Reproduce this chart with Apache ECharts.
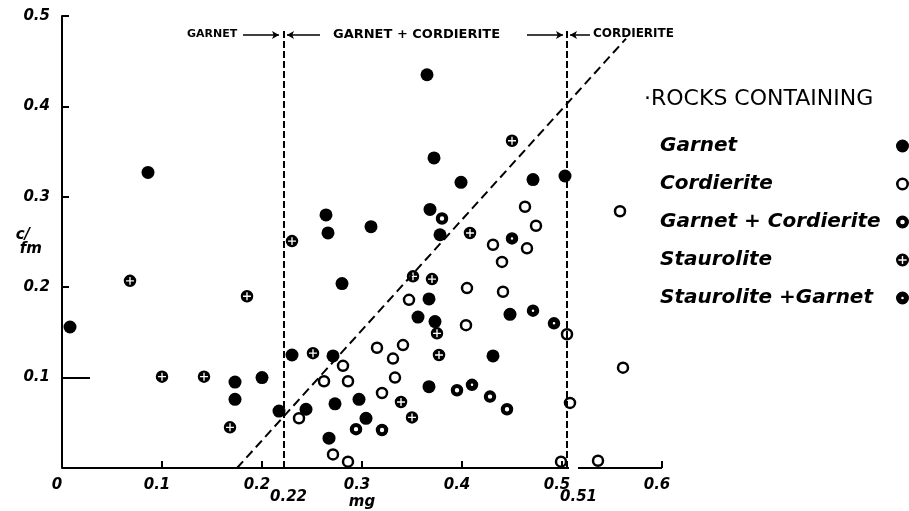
<!DOCTYPE html>
<html><head><meta charset="utf-8">
<script src="https://cdn.jsdelivr.net/npm/echarts@6/dist/echarts.min.js"></script>
<style>html,body{margin:0;padding:0;background:#fff}#c{width:909px;height:511px}</style>
</head><body><div id="c"></div>
<script>
// ---- tick labels / texts ----
const xTickLabels = ['0', '0.1', '0.2', '0.3', '0.4', '0.5', '0.6'];
const yTickLabels = ['', '0.1', '0.2', '0.3', '0.4', '0.5'];
const boundaryValues = [0.22, 0.51];
const boundaryLabels = ['0.22', '0.51'];
const zoneNames = ['GARNET', 'GARNET + CORDIERITE', 'CORDIERITE'];
const legendTitle = '·ROCKS CONTAINING';
const seriesNames = ['Garnet', 'Cordierite', 'Garnet + Cordierite', 'Staurolite', 'Staurolite +Garnet'];

// ---- data: [mg, c/fm] ----
const garnet = [
  [0.008,0.156],[0.086,0.327],[0.365,0.435],[0.372,0.343],[0.399,0.316],[0.264,0.280],
  [0.266,0.260],[0.309,0.267],[0.368,0.286],[0.378,0.258],[0.471,0.319],[0.503,0.323],
  [0.280,0.204],[0.367,0.187],[0.356,0.167],[0.373,0.162],[0.431,0.124],[0.367,0.090],
  [0.448,0.170],[0.173,0.095],[0.200,0.100],[0.173,0.076],[0.217,0.063],[0.230,0.125],
  [0.271,0.124],[0.244,0.065],[0.273,0.071],[0.297,0.076],[0.304,0.055],[0.267,0.033]
];
const cordierite = [
  [0.281,0.113],[0.262,0.096],[0.286,0.096],[0.237,0.055],[0.271,0.015],[0.286,0.007],
  [0.315,0.133],[0.331,0.121],[0.333,0.100],[0.320,0.083],[0.347,0.186],[0.405,0.199],
  [0.404,0.158],[0.341,0.136],[0.441,0.195],[0.440,0.228],[0.431,0.247],[0.465,0.243],
  [0.474,0.268],[0.463,0.289],[0.505,0.148],[0.508,0.072],[0.561,0.111],[0.499,0.007],
  [0.536,0.008],[0.558,0.284]
];
const garnetCordierite = [
  [0.380,0.276],[0.294,0.043],[0.320,0.042],[0.395,0.086],[0.428,0.079],[0.445,0.065]
];
const staurolite = [
  [0.230,0.251],[0.068,0.207],[0.185,0.190],[0.100,0.101],[0.142,0.101],[0.168,0.045],
  [0.251,0.127],[0.351,0.212],[0.370,0.209],[0.375,0.149],[0.377,0.125],[0.339,0.073],
  [0.350,0.056],[0.408,0.260],[0.450,0.362]
];
const stauroliteGarnet = [
  [0.410,0.092],[0.450,0.254],[0.471,0.174],[0.492,0.160]
];

// ---- boundary / reference lines (data coords) ----
const boundaryLineX = [0.222, 0.505];
const diagonalLine = [[0.175, 0], [0.564, 0.475]];
const headerY = 0.479;
const headerArrows = [[0.181, 0.217], [0.258, 0.225], [0.465, 0.501], [0.528, 0.508]];

// ---- symbols ----
const circleOuter = 'M6,0 A6,6 0 1 1 6,12 A6,6 0 1 1 6,0 Z ';
function ring(r) {
  return 'path://' + circleOuter + 'M6,' + (6 - r) + ' A' + r + ',' + r + ' 0 1 0 6,' + (6 + r) +
    ' A' + r + ',' + r + ' 0 1 0 6,' + (6 - r) + ' Z';
}
const plusSym = 'path://' + circleOuter +
  'M5.35,2.2 L5.35,5.35 L2.2,5.35 L2.2,6.65 L5.35,6.65 L5.35,9.8 L6.65,9.8 L6.65,6.65 L9.8,6.65 L9.8,5.35 L6.65,5.35 L6.65,2.2 Z';

const font = '"DejaVu Sans", sans-serif';
const chart = echarts.init(document.getElementById('c'), null, {renderer: 'canvas'});

function sc(name, data, symbol, size) {
  return {
    name, type: 'scatter', data, symbol, symbolSize: size, z: 3,
    itemStyle: {color: '#000', opacity: 1, borderWidth: 0},
    emphasis: {disabled: true}
  };
}

const lineDash = (a, b, dash) => [
  {coord: a, symbol: 'none', lineStyle: {type: dash, width: 2, color: '#000'}},
  {coord: b, symbol: 'none'}
];

const markData = [];
boundaryLineX.forEach(x => markData.push(lineDash([x, 0], [x, 0.485], [7, 3])));
markData.push(lineDash(diagonalLine[0], diagonalLine[1], [9, 5]));
headerArrows.forEach(a => markData.push([
  {coord: [a[0], headerY], symbol: 'none', lineStyle: {type: 'solid', width: 1.5, color: '#000'}},
  {coord: [a[1], headerY], symbol: 'arrow', symbolSize: [6, 7]}
]));
// x axis line (with break near 0.51)
markData.push([{coord: [0, 0], symbol: 'none', lineStyle: {type: 'solid', width: 2, color: '#000'}}, {coord: [0.507, 0], symbol: 'none'}]);
markData.push([{coord: [0.516, 0], symbol: 'none', lineStyle: {type: 'solid', width: 2, color: '#000'}}, {coord: [0.6, 0], symbol: 'none'}]);
// long tick at 0.1
markData.push([{coord: [0, 0.1], symbol: 'none', lineStyle: {type: 'solid', width: 2, color: '#000'}}, {coord: [0.028, 0.1], symbol: 'none'}]);

const labelStyle = {color: '#000', fontFamily: font, fontStyle: 'italic', fontWeight: 'bold', fontSize: 15};
const legendText = {fontSize: 20, fontFamily: font, fontStyle: 'italic', fontWeight: 'bold', color: '#000', lineHeight: 22, height: 22};

const option = {
  animation: false,
  backgroundColor: '#fff',
  grid: {left: 62, right: 247, top: 16, bottom: 43, containLabel: false, outerBoundsMode: 'none'},
  title: {
    text: legendTitle, left: 644, top: 88, padding: 0,
    textStyle: {fontFamily: font, fontSize: 22, fontWeight: 'normal', color: '#000'}
  },
  legend: [{
    data: seriesNames, orient: 'vertical', left: 653, top: 135, align: 'left',
    itemWidth: 2, itemHeight: 13, itemGap: 16, padding: 0, selectedMode: false,
    itemStyle: {opacity: 0},
    textStyle: legendText
  }, {
    data: seriesNames, orient: 'vertical', left: 896, top: 135, align: 'left',
    itemWidth: 13, itemHeight: 13, itemGap: 16, padding: 0, selectedMode: false,
    formatter: () => ' ',
    textStyle: legendText
  }],
  xAxis: [{
    type: 'value', min: 0, max: 0.6, interval: 0.1,
    name: 'mg', nameLocation: 'middle', nameGap: 27, nameMoveOverlap: false,
    nameTextStyle: {color: '#000', fontFamily: font, fontStyle: 'italic', fontWeight: 'bold', fontSize: 15},
    axisLine: {show: false, onZero: false},
    axisTick: {show: true, inside: true, length: 7, lineStyle: {color: '#000', width: 2}},
    axisLabel: Object.assign({margin: 10, padding: [0, 10, 0, 0],
      formatter: v => xTickLabels[Math.round(v * 10)]}, labelStyle),
    splitLine: {show: false}
  }, {
    type: 'value', min: 0, max: 0.6, position: 'bottom', offset: 0,
    axisLine: {show: false}, axisTick: {show: false}, splitLine: {show: false},
    axisLabel: Object.assign({margin: 22, padding: [0, 0, 0, 13], customValues: boundaryValues,
      formatter: v => boundaryLabels[boundaryValues.indexOf(v)] || ''}, labelStyle)
  }],
  yAxis: {
    type: 'value', min: 0, max: 0.5, interval: 0.1,
    name: '{a|c/}\n{b|fm}', nameLocation: 'middle', nameRotate: 0, nameGap: 20, nameMoveOverlap: false,
    nameTextStyle: {
      rich: {
        a: {fontFamily: font, fontStyle: 'italic', fontWeight: 'bold', fontSize: 15, color: '#000', padding: [0, 12, 0, 0], lineHeight: 14},
        b: {fontFamily: font, fontStyle: 'italic', fontWeight: 'bold', fontSize: 15, color: '#000', lineHeight: 14}
      }
    },
    axisLine: {show: true, onZero: false, lineStyle: {color: '#000', width: 2}},
    axisTick: {show: true, inside: true, length: 7, lineStyle: {color: '#000', width: 2}},
    axisLabel: Object.assign({margin: 12, formatter: v => yTickLabels[Math.round(v * 10)]}, labelStyle),
    splitLine: {show: false}
  },
  graphic: [
    {type: 'text', left: 187, top: 29, style: {text: zoneNames[0], fill: '#000', font: 'bold 11px ' + font}},
    {type: 'text', left: 333, top: 28, style: {text: zoneNames[1], fill: '#000', font: 'bold 13px ' + font}},
    {type: 'text', left: 593, top: 28, style: {text: zoneNames[2], fill: '#000', font: 'bold 12px ' + font}}
  ],
  series: [
    {
      name: 'annotations', type: 'scatter', data: [], z: 1, silent: true,
      markLine: {silent: true, symbol: 'none', label: {show: false}, animation: false, data: markData}
    },
    sc(seriesNames[0], garnet, 'circle', 13),
    sc(seriesNames[1], cordierite, ring(3.6), 12.5),
    sc(seriesNames[2], garnetCordierite, ring(2.1), 12.5),
    sc(seriesNames[3], staurolite, plusSym, 12.5),
    sc(seriesNames[4], stauroliteGarnet, ring(1.2), 12.5)
  ]
};
chart.setOption(option);
</script>
</body></html>
